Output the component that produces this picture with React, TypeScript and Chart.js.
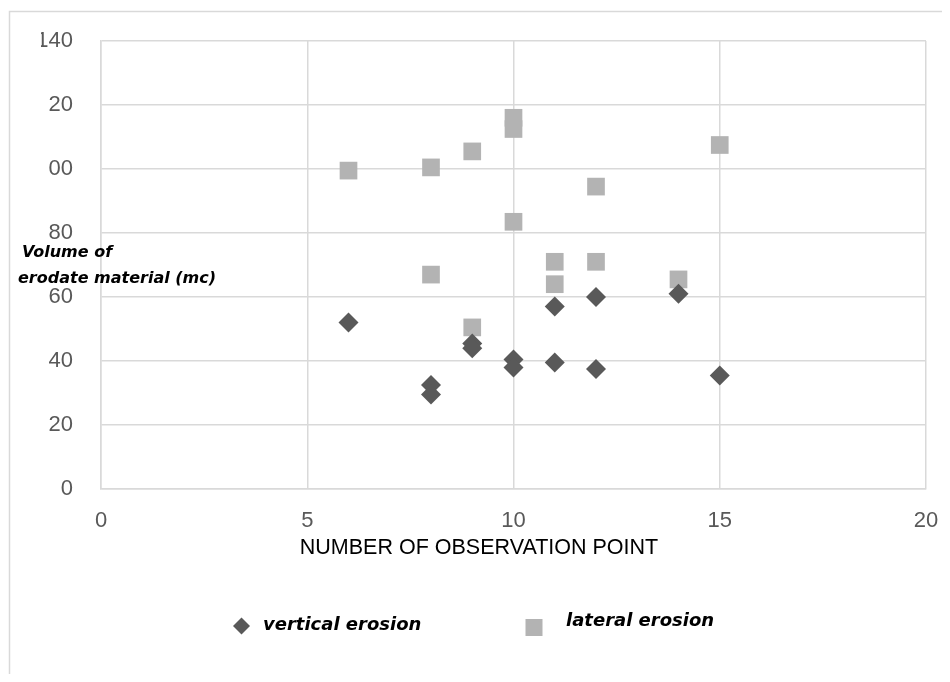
import React, { useEffect, useRef } from "react";
import { Chart, registerables } from "chart.js";

Chart.register(...registerables);

// ---- data ----
const verticalX = [6, 8, 8, 9, 9, 10, 10, 11, 11, 12, 12, 14, 15];
const verticalY = [52, 32.5, 29.5, 45.5, 44, 40.5, 38, 57, 39.5, 60, 37.5, 61, 35.5];
const lateralX = [6, 8, 8, 9, 9, 10, 10, 10, 11, 11, 12, 12, 14, 15];
const lateralY = [99.5, 100.5, 67, 105.5, 50.5, 116, 112.5, 83.5, 71, 64, 94.5, 71, 65.5, 107.5];
const yTickLabels = ["0", "20", "40", "60", "80", "00", "20", "140"];
const xTickLabels = ["0", "5", "10", "15", "20"];
const seriesNames = ["vertical erosion", "lateral erosion"];
const xTitle = "NUMBER OF OBSERVATION POINT";
const yTitleLines = ["Volume of", "erodate material (mc)"];

const W = 934;
const H = 666;
const DARK = "#595959";
const LIGHT = "#b3b3b3";
const GRID = "#d9d9d9";

const decor = {
  id: "decor",
  beforeDraw(chart: any) {
    const ctx = chart.ctx;
    ctx.save();
    ctx.strokeStyle = GRID;
    ctx.lineWidth = 1.5;
    ctx.beginPath();
    ctx.moveTo(1.5, H);
    ctx.lineTo(1.5, 3.5);
    ctx.lineTo(W, 3.5);
    ctx.stroke();
    ctx.restore();
  },
  afterDraw(chart: any) {
    const ctx = chart.ctx;
    ctx.save();
    // y axis title (horizontal, two lines)
    ctx.fillStyle = "#000";
    ctx.textAlign = "left";
    ctx.textBaseline = "alphabetic";
    ctx.font = "italic bold 16px 'DejaVu Sans'";
    ctx.fillText(yTitleLines[0], 14, 249);
    ctx.fillText(yTitleLines[1], 10, 275);

    // x axis title
    ctx.font = "21.5px 'Liberation Sans'";
    ctx.textAlign = "center";
    ctx.textBaseline = "middle";
    ctx.fillText(xTitle, 471, 540);

    // legend
    ctx.fillStyle = DARK;
    ctx.beginPath();
    const cx = 233.5, cy = 618, r = 8.5;
    ctx.moveTo(cx, cy - r);
    ctx.lineTo(cx + r, cy);
    ctx.lineTo(cx, cy + r);
    ctx.lineTo(cx - r, cy);
    ctx.closePath();
    ctx.fill();
    ctx.fillStyle = LIGHT;
    ctx.fillRect(526 - 8.5, 619.5 - 8.5, 17, 17);

    ctx.fillStyle = "#000";
    ctx.font = "italic bold 18px 'DejaVu Sans'";
    ctx.textAlign = "left";
    ctx.textBaseline = "middle";
    ctx.fillText(seriesNames[0], 255, 617);
    ctx.fillText(seriesNames[1], 558, 613);
    ctx.restore();
  },
};

export default function App() {
  const ref = useRef<HTMLCanvasElement | null>(null);
  useEffect(() => {
    if (!ref.current) return;
    const chart = new Chart(ref.current, {
      type: "scatter",
      data: {
        datasets: [
          {
            label: seriesNames[0],
            data: verticalX.map((x, i) => ({ x, y: verticalY[i] })),
            pointStyle: "rectRot",
            pointRadius: 10,
            pointHoverRadius: 10,
            backgroundColor: DARK,
            borderColor: DARK,
            borderWidth: 0,
          },
          {
            label: seriesNames[1],
            data: lateralX.map((x, i) => ({ x, y: lateralY[i] })),
            pointStyle: "rect",
            pointRadius: 12.5,
            pointHoverRadius: 12.5,
            backgroundColor: LIGHT,
            borderColor: LIGHT,
            borderWidth: 0,
          },
        ],
      },
      options: {
        responsive: false,
        animation: false,
        layout: { padding: { left: 33, right: 16, top: 33, bottom: 125 } },
        plugins: {
          legend: { display: false },
          tooltip: { enabled: false },
          title: { display: false },
        },
        scales: {
          x: {
            type: "linear",
            min: 0,
            max: 20,
            afterFit: (s: any) => {
              s.height = 60;
              s.paddingLeft = 0;
              s.paddingRight = 0;
            },
            ticks: {
              stepSize: 5,
              padding: 19,
              color: DARK,
              font: { family: "'Liberation Sans'", size: 22 },
              callback: (_v: any, i: number) => xTickLabels[i],
            },
            grid: { color: GRID, lineWidth: 1.5, drawTicks: false },
            border: { color: GRID, width: 1.5 },
          },
          y: {
            type: "linear",
            min: 0,
            max: 140,
            afterFit: (s: any) => {
              s.width = 60;
              s.paddingTop = 0;
              s.paddingBottom = 0;
            },
            ticks: {
              stepSize: 20,
              padding: 28,
              color: DARK,
              font: { family: "'Liberation Sans'", size: 22 },
              callback: (_v: any, i: number) => yTickLabels[i],
            },
            grid: { color: GRID, lineWidth: 1.5, drawTicks: false },
            border: { color: GRID, width: 1.5 },
          },
        },
      },
      plugins: [decor],
    });
    return () => chart.destroy();
  }, []);
  return (
    <canvas
      ref={ref}
      width={W}
      height={H}
      style={{ display: "block", width: W + "px", height: H + "px" }}
    />
  );
}
